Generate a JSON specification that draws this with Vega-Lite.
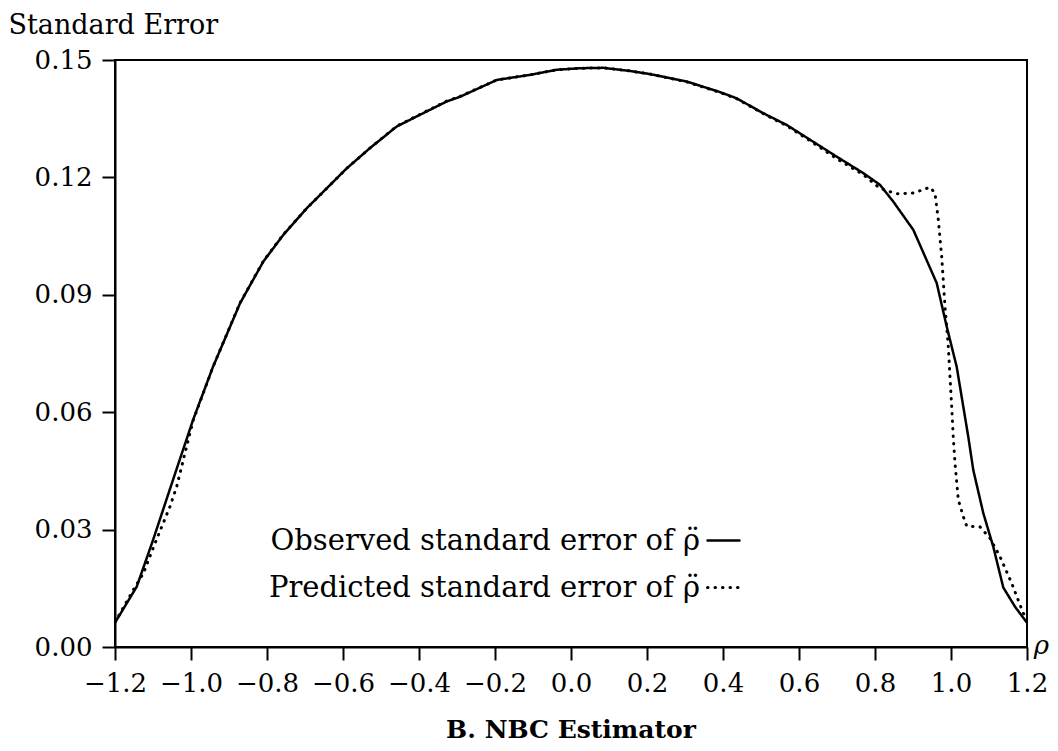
{
  "$schema": "https://vega.github.io/schema/vega-lite/v6.json",
  "width": 912,
  "height": 587,
  "autosize": "none",
  "padding": {"left": 115, "top": 60, "right": 31, "bottom": 104},
  "background": "white",
  "title": {
    "text": "B. NBC Estimator",
    "orient": "bottom",
    "anchor": "middle",
    "font": "DejaVu Serif",
    "fontSize": 25,
    "fontWeight": "bold",
    "color": "black",
    "offset": 22
  },
  "config": {
    "font": "DejaVu Serif",
    "view": {"stroke": "black", "strokeWidth": 2},
    "axis": {
      "grid": false,
      "domainColor": "black",
      "domainWidth": 2,
      "tickColor": "black",
      "tickWidth": 2,
      "tickSize": 13,
      "labelFont": "DejaVu Serif",
      "labelFontSize": 26,
      "labelColor": "black",
      "titleFont": "DejaVu Serif",
      "titleFontSize": 26,
      "titleFontWeight": "normal",
      "titleColor": "black"
    },
    "legend": {"labelFont": "DejaVu Serif"}
  },
  "data": {
    "values": [
      {"rho": -1.2, "se": 0.0062, "series": "Observed standard error of ρ̈"},
      {"rho": -1.1429, "se": 0.0154, "series": "Observed standard error of ρ̈"},
      {"rho": -1.1, "se": 0.0273, "series": "Observed standard error of ρ̈"},
      {"rho": -1.0474, "se": 0.0427, "series": "Observed standard error of ρ̈"},
      {"rho": -0.9947, "se": 0.058, "series": "Observed standard error of ρ̈"},
      {"rho": -0.9421, "se": 0.0716, "series": "Observed standard error of ρ̈"},
      {"rho": -0.8711, "se": 0.0878, "series": "Observed standard error of ρ̈"},
      {"rho": -0.8097, "se": 0.0985, "series": "Observed standard error of ρ̈"},
      {"rho": -0.7571, "se": 0.1053, "series": "Observed standard error of ρ̈"},
      {"rho": -0.6955, "se": 0.1121, "series": "Observed standard error of ρ̈"},
      {"rho": -0.6429, "se": 0.1172, "series": "Observed standard error of ρ̈"},
      {"rho": -0.5903, "se": 0.1223, "series": "Observed standard error of ρ̈"},
      {"rho": -0.5289, "se": 0.1275, "series": "Observed standard error of ρ̈"},
      {"rho": -0.4587, "se": 0.133, "series": "Observed standard error of ρ̈"},
      {"rho": -0.3974, "se": 0.136, "series": "Observed standard error of ρ̈"},
      {"rho": -0.3271, "se": 0.1394, "series": "Observed standard error of ρ̈"},
      {"rho": -0.2921, "se": 0.1406, "series": "Observed standard error of ρ̈"},
      {"rho": -0.1955, "se": 0.1449, "series": "Observed standard error of ρ̈"},
      {"rho": -0.1079, "se": 0.1462, "series": "Observed standard error of ρ̈"},
      {"rho": -0.0376, "se": 0.1475, "series": "Observed standard error of ρ̈"},
      {"rho": 0.0237, "se": 0.1479, "series": "Observed standard error of ρ̈"},
      {"rho": 0.085, "se": 0.148, "series": "Observed standard error of ρ̈"},
      {"rho": 0.1553, "se": 0.1472, "series": "Observed standard error of ρ̈"},
      {"rho": 0.2079, "se": 0.1464, "series": "Observed standard error of ρ̈"},
      {"rho": 0.3045, "se": 0.1445, "series": "Observed standard error of ρ̈"},
      {"rho": 0.3921, "se": 0.1418, "series": "Observed standard error of ρ̈"},
      {"rho": 0.4361, "se": 0.1402, "series": "Observed standard error of ρ̈"},
      {"rho": 0.5061, "se": 0.1364, "series": "Observed standard error of ρ̈"},
      {"rho": 0.5676, "se": 0.1334, "series": "Observed standard error of ρ̈"},
      {"rho": 0.6376, "se": 0.1291, "series": "Observed standard error of ρ̈"},
      {"rho": 0.6992, "se": 0.1253, "series": "Observed standard error of ρ̈"},
      {"rho": 0.7692, "se": 0.1211, "series": "Observed standard error of ρ̈"},
      {"rho": 0.8132, "se": 0.1181, "series": "Observed standard error of ρ̈"},
      {"rho": 0.8482, "se": 0.1138, "series": "Observed standard error of ρ̈"},
      {"rho": 0.9008, "se": 0.1066, "series": "Observed standard error of ρ̈"},
      {"rho": 0.9624, "se": 0.093, "series": "Observed standard error of ρ̈"},
      {"rho": 0.9887, "se": 0.0819, "series": "Observed standard error of ρ̈"},
      {"rho": 1.015, "se": 0.0716, "series": "Observed standard error of ρ̈"},
      {"rho": 1.0455, "se": 0.0537, "series": "Observed standard error of ρ̈"},
      {"rho": 1.0587, "se": 0.0452, "series": "Observed standard error of ρ̈"},
      {"rho": 1.085, "se": 0.0342, "series": "Observed standard error of ρ̈"},
      {"rho": 1.1113, "se": 0.0256, "series": "Observed standard error of ρ̈"},
      {"rho": 1.1376, "se": 0.0152, "series": "Observed standard error of ρ̈"},
      {"rho": 1.1684, "se": 0.0103, "series": "Observed standard error of ρ̈"},
      {"rho": 1.2, "se": 0.0062, "series": "Observed standard error of ρ̈"},

      {"rho": -1.2, "se": 0.0064, "series": "Predicted standard error of ρ̈"},
      {"rho": -1.1868, "se": 0.0086, "series": "Predicted standard error of ρ̈"},
      {"rho": -1.1518, "se": 0.0146, "series": "Predicted standard error of ρ̈"},
      {"rho": -1.1255, "se": 0.0188, "series": "Predicted standard error of ρ̈"},
      {"rho": -1.0947, "se": 0.0265, "series": "Predicted standard error of ρ̈"},
      {"rho": -1.0771, "se": 0.0307, "series": "Predicted standard error of ρ̈"},
      {"rho": -1.0553, "se": 0.0359, "series": "Predicted standard error of ρ̈"},
      {"rho": -1.0376, "se": 0.041, "series": "Predicted standard error of ρ̈"},
      {"rho": -1.0203, "se": 0.0478, "series": "Predicted standard error of ρ̈"},
      {"rho": -1.0071, "se": 0.0529, "series": "Predicted standard error of ρ̈"},
      {"rho": -0.9939, "se": 0.058, "series": "Predicted standard error of ρ̈"},
      {"rho": -0.9421, "se": 0.0716, "series": "Predicted standard error of ρ̈"},
      {"rho": -0.8711, "se": 0.0879, "series": "Predicted standard error of ρ̈"},
      {"rho": -0.8097, "se": 0.0986, "series": "Predicted standard error of ρ̈"},
      {"rho": -0.7571, "se": 0.1054, "series": "Predicted standard error of ρ̈"},
      {"rho": -0.6955, "se": 0.1121, "series": "Predicted standard error of ρ̈"},
      {"rho": -0.6429, "se": 0.1172, "series": "Predicted standard error of ρ̈"},
      {"rho": -0.5903, "se": 0.1223, "series": "Predicted standard error of ρ̈"},
      {"rho": -0.5289, "se": 0.1275, "series": "Predicted standard error of ρ̈"},
      {"rho": -0.4587, "se": 0.1331, "series": "Predicted standard error of ρ̈"},
      {"rho": -0.3974, "se": 0.1361, "series": "Predicted standard error of ρ̈"},
      {"rho": -0.3271, "se": 0.1395, "series": "Predicted standard error of ρ̈"},
      {"rho": -0.2921, "se": 0.1407, "series": "Predicted standard error of ρ̈"},
      {"rho": -0.1955, "se": 0.1449, "series": "Predicted standard error of ρ̈"},
      {"rho": -0.1079, "se": 0.1462, "series": "Predicted standard error of ρ̈"},
      {"rho": -0.0376, "se": 0.1475, "series": "Predicted standard error of ρ̈"},
      {"rho": 0.0237, "se": 0.1479, "series": "Predicted standard error of ρ̈"},
      {"rho": 0.085, "se": 0.148, "series": "Predicted standard error of ρ̈"},
      {"rho": 0.1553, "se": 0.1472, "series": "Predicted standard error of ρ̈"},
      {"rho": 0.2079, "se": 0.1464, "series": "Predicted standard error of ρ̈"},
      {"rho": 0.3045, "se": 0.1444, "series": "Predicted standard error of ρ̈"},
      {"rho": 0.3921, "se": 0.1417, "series": "Predicted standard error of ρ̈"},
      {"rho": 0.4361, "se": 0.1401, "series": "Predicted standard error of ρ̈"},
      {"rho": 0.5061, "se": 0.1363, "series": "Predicted standard error of ρ̈"},
      {"rho": 0.5676, "se": 0.1332, "series": "Predicted standard error of ρ̈"},
      {"rho": 0.6376, "se": 0.1288, "series": "Predicted standard error of ρ̈"},
      {"rho": 0.6992, "se": 0.1248, "series": "Predicted standard error of ρ̈"},
      {"rho": 0.7692, "se": 0.1207, "series": "Predicted standard error of ρ̈"},
      {"rho": 0.8132, "se": 0.1172, "series": "Predicted standard error of ρ̈"},
      {"rho": 0.8571, "se": 0.1158, "series": "Predicted standard error of ρ̈"},
      {"rho": 0.9008, "se": 0.116, "series": "Predicted standard error of ρ̈"},
      {"rho": 0.9447, "se": 0.1175, "series": "Predicted standard error of ρ̈"},
      {"rho": 0.9579, "se": 0.116, "series": "Predicted standard error of ρ̈"},
      {"rho": 0.9666, "se": 0.1091, "series": "Predicted standard error of ρ̈"},
      {"rho": 0.9755, "se": 0.0997, "series": "Predicted standard error of ρ̈"},
      {"rho": 0.9842, "se": 0.087, "series": "Predicted standard error of ρ̈"},
      {"rho": 0.9929, "se": 0.0767, "series": "Predicted standard error of ρ̈"},
      {"rho": 1.0018, "se": 0.0614, "series": "Predicted standard error of ρ̈"},
      {"rho": 1.0061, "se": 0.0533, "series": "Predicted standard error of ρ̈"},
      {"rho": 1.0105, "se": 0.047, "series": "Predicted standard error of ρ̈"},
      {"rho": 1.0192, "se": 0.0376, "series": "Predicted standard error of ρ̈"},
      {"rho": 1.0324, "se": 0.0333, "series": "Predicted standard error of ρ̈"},
      {"rho": 1.0413, "se": 0.0309, "series": "Predicted standard error of ρ̈"},
      {"rho": 1.0763, "se": 0.0307, "series": "Predicted standard error of ρ̈"},
      {"rho": 1.1026, "se": 0.0278, "series": "Predicted standard error of ρ̈"},
      {"rho": 1.1289, "se": 0.0231, "series": "Predicted standard error of ρ̈"},
      {"rho": 1.1597, "se": 0.0163, "series": "Predicted standard error of ρ̈"},
      {"rho": 1.1903, "se": 0.0086, "series": "Predicted standard error of ρ̈"},
      {"rho": 1.2, "se": 0.0075, "series": "Predicted standard error of ρ̈"}
    ]
  },
  "mark": {"type": "line", "color": "black", "strokeCap": "round", "clip": true},
  "encoding": {
    "x": {
      "field": "rho",
      "type": "quantitative",
      "scale": {"domain": [-1.2, 1.2], "nice": false, "zero": false},
      "axis": {
        "values": [-1.2, -1.0, -0.8, -0.6, -0.4, -0.2, 0, 0.2, 0.4, 0.6, 0.8, 1.0, 1.2],
        "format": ".1f",
        "labelFont": "DejaVu Serif",
        "labelFontSize": 26,
        "labelPadding": 10,
        "labelFlush": false,
        "labelOverlap": false,
        "title": "ρ",
        "titleFont": "DejaVu Serif",
        "titleFontSize": 26,
        "titleFontStyle": "italic",
        "titleAngle": 0,
        "titleAlign": "center",
        "titleBaseline": "alphabetic",
        "titleX": 926,
        "titleY": 6
      }
    },
    "y": {
      "field": "se",
      "type": "quantitative",
      "scale": {"domain": [0, 0.15], "nice": false},
      "axis": {
        "values": [0, 0.03, 0.06, 0.09, 0.12, 0.15],
        "format": ".2f",
        "labelFont": "DejaVu Serif",
        "labelFontSize": 26,
        "labelPadding": 10,
        "labelFlush": false,
        "labelOverlap": false,
        "title": "Standard Error",
        "titleFont": "DejaVu Serif",
        "titleFontSize": 27,
        "titleAngle": 0,
        "titleAlign": "left",
        "titleBaseline": "alphabetic",
        "titleX": -107,
        "titleY": -27
      }
    },
    "strokeDash": {
      "field": "series",
      "type": "nominal",
      "scale": {
        "domain": ["Observed standard error of ρ̈", "Predicted standard error of ρ̈"],
        "range": [[1, 0], [0.5, 7]]
      },
      "legend": {
        "title": null,
        "orient": "none",
        "legendX": 591,
        "legendY": 463,
        "padding": 0,
        "symbolType": "stroke",
        "symbolSize": 1024,
        "symbolStrokeWidth": 2.5,
        "symbolStrokeColor": "black",
        "labelFont": "DejaVu Serif",
        "labelFontSize": 29,
        "labelColor": "black",
        "labelAlign": "right",
        "labelOffset": -41,
        "labelLimit": 0,
        "rowPadding": 14,
        "encode": {
          "symbols": {
            "update": {
              "strokeDash": {"signal": "indexOf(datum.label, 'Predicted') >= 0 ? [0.5, 4] : [1, 0]"},
              "strokeCap": {"value": "round"}
            }
          }
        }
      }
    },
    "strokeWidth": {
      "field": "series",
      "type": "nominal",
      "scale": {
        "domain": ["Observed standard error of ρ̈", "Predicted standard error of ρ̈"],
        "range": [2.5, 3]
      },
      "legend": null
    }
  }
}
